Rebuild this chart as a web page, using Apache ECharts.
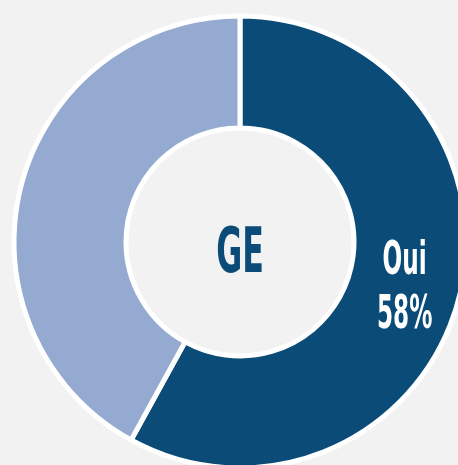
<!DOCTYPE html>
<html>
<head>
<meta charset="utf-8">
<script src="https://cdn.jsdelivr.net/npm/echarts@6/dist/echarts.min.js"></script>
<style>
  html, body { margin: 0; padding: 0; background: #f2f2f2; }
  #chart { width: 458px; height: 465px; }
</style>
</head>
<body>
<div id="chart"></div>
<script>
// donnees du graphique
const categories = ['Oui', 'Non'];
const values = [58, 42];
const centerLabel = 'GE';

const chart = echarts.init(document.getElementById('chart'));

const seriesData = categories.map((name, i) => ({ name: name, value: values[i] }));

const option = {
  backgroundColor: '#f2f2f2',
  animation: false,
  series: [{
    type: 'pie',
    silent: true,
    center: [240, 242],
    radius: [114, 226],
    startAngle: 90,
    clockwise: true,
    color: ['#0a4b78', '#95aad0'],
    itemStyle: {
      borderColor: '#ffffff',
      borderWidth: 5
    },
    label: { show: false },
    labelLine: { show: false },
    data: seriesData
  }]
};
chart.setOption(option);

// texte du centre + etiquette "Oui", au milieu du secteur (layout calcule par echarts)
const layout = chart.getModel().getSeriesByIndex(0).getData().getItemLayout(0);
const mid = (layout.startAngle + layout.endAngle) / 2;
const rMid = (layout.r + layout.r0) / 2;

chart.setOption({
  graphic: [
    {
      type: 'text',
      z: 100,
      x: layout.cx,
      y: layout.cy + 14,
      scaleX: 0.56,
      silent: true,
      style: {
        text: centerLabel,
        font: 'bold 63px "DejaVu Sans Condensed"',
        fill: '#0a4b78',
        align: 'center',
        verticalAlign: 'middle'
      }
    },
    {
      type: 'text',
      z: 100,
      x: layout.cx + rMid * Math.cos(mid),
      y: layout.cy + rMid * Math.sin(mid) + 5,
      scaleX: 0.56,
      silent: true,
      style: {
        text: categories[0] + '\n' + values[0] + '%',
        font: 'bold 46px "DejaVu Sans Condensed"',
        lineHeight: 54,
        fill: '#ffffff',
        align: 'center',
        verticalAlign: 'middle'
      }
    }
  ]
});
</script>
</body>
</html>
